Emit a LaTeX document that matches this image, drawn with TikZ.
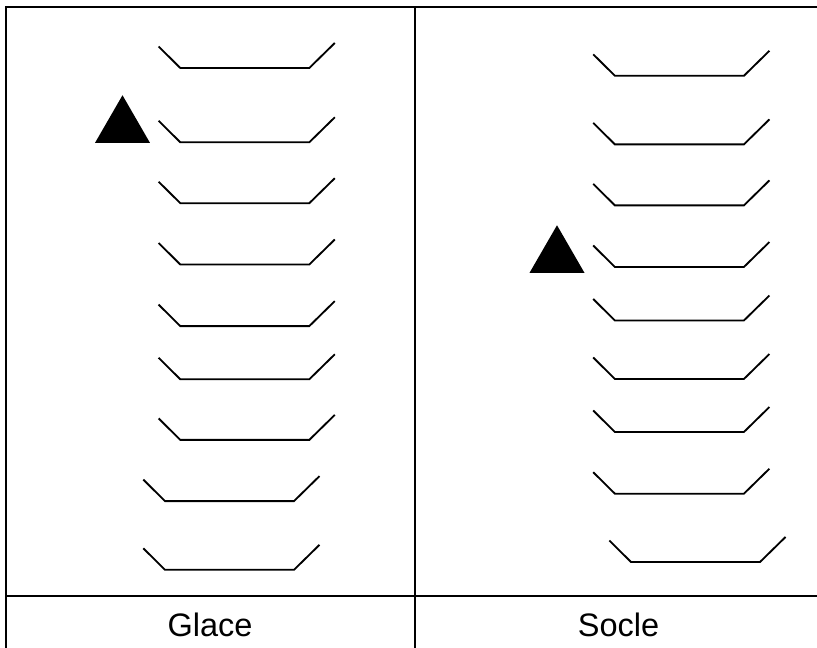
\documentclass[tikz,border=0pt]{standalone}
\usepackage{fontspec}
\setmainfont{Liberation Sans}
\usetikzlibrary{shapes.geometric}

\tikzset{
  frame/.style={line width=1.5pt, draw=black},
  tray/.pic={\draw[line width=1.05pt, line join=miter] (-21.7,-21.5) -- (0,0) -- (129,0) -- (154.5,-25);},
  marker/.style={regular polygon, regular polygon sides=3, fill=black, inner sep=0pt, minimum size=1.27cm},
  cell/.style={font=\fontsize{18.5}{22}\selectfont, inner sep=0pt},
}

\begin{document}
\begin{tikzpicture}[x=0.02cm, y=-0.02cm]
  \useasboundingbox (0,0) rectangle (817,648);
  % table
  \draw[frame] (6,648) -- (6,7) -- (817,7);
  \draw[frame] (415,7) -- (415,648);
  \draw[frame] (6,596) -- (817,596);
  % Glace column
  \foreach \ypos in {68,142.3,203.2,264.5,326.1,379.3,439.9} {
    \pic at (180.3,\ypos) {tray};
  }
  \foreach \ypos in {501.1,569.8} {
    \pic at (165,\ypos) {tray};
  }
  \node[marker] (glacemark) at (122.5,127) {}; %
  % Socle column
  \foreach \ypos in {75.8,144.4,205.4,267,320.5,379,432,493.7} {
    \pic at (614.9,\ypos) {tray};
  }
  \pic at (631,562) {tray};
  \node[marker] (soclemark) at (557,257) {}; %
  % labels
  \node[cell] (glace) at (210,625) {Glace}; %
  \node[cell] (socle) at (618.5,625) {Socle}; %
\end{tikzpicture}
\end{document}
